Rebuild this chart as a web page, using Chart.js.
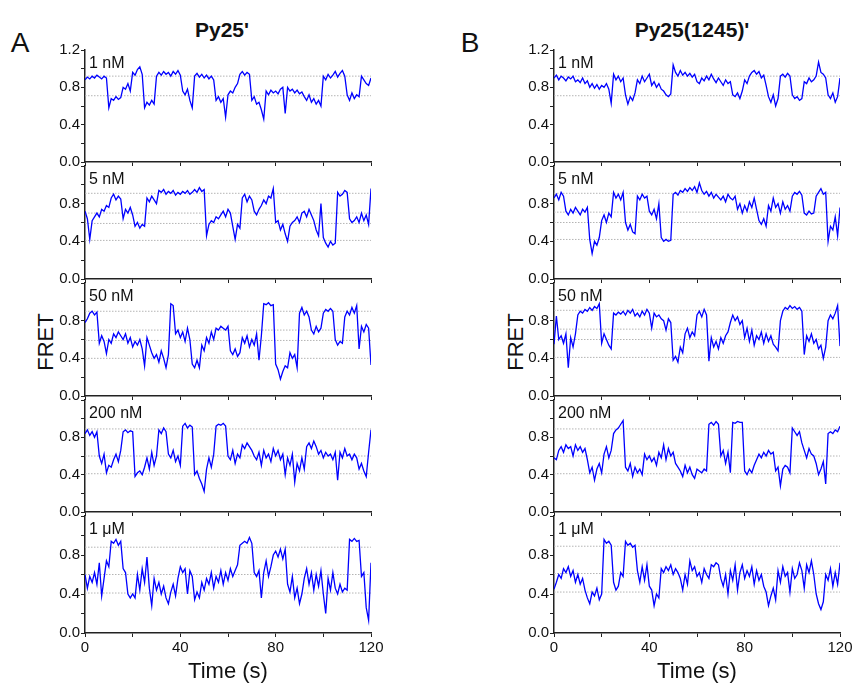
<!DOCTYPE html>
<html>
<head>
<meta charset="utf-8">
<script src="https://cdn.jsdelivr.net/npm/chart.js@4"></script>
<style>
  body { margin: 0; background: #fff; }
  #fig { position: relative; width: 854px; height: 686px; overflow: hidden;
         font-family: 'Liberation Sans', Arial, sans-serif; color: #111; }
  #fig canvas { position: absolute; }
  .txt { position: absolute; white-space: nowrap; }
</style>
</head>
<body>
<div id="fig">
  <div class="txt" style="left:20px;top:43px;font-size:28px;transform:translate(-50%,-50%)">A</div>
  <div class="txt" style="left:470px;top:43px;font-size:28px;transform:translate(-50%,-50%)">B</div>
  <div class="txt" style="left:222px;top:30px;font-size:21px;font-weight:bold;transform:translate(-50%,-50%)">Py25'</div>
  <div class="txt" style="left:692px;top:30px;font-size:21px;font-weight:bold;transform:translate(-50%,-50%)">Py25(1245)'</div>
  <div class="txt" style="left:46px;top:342px;font-size:22px;transform:translate(-50%,-50%) rotate(-90deg)">FRET</div>
  <div class="txt" style="left:516px;top:342px;font-size:22px;transform:translate(-50%,-50%) rotate(-90deg)">FRET</div>
</div>
<script>
// time axis (s), one sample per second
const timeS = [
  0,1,2,3,4,5,6,7,8,9,10,11,12,13,14,15,16,17,18,19,
  20,21,22,23,24,25,26,27,28,29,30,31,32,33,34,35,36,37,38,39,
  40,41,42,43,44,45,46,47,48,49,50,51,52,53,54,55,56,57,58,59,
  60,61,62,63,64,65,66,67,68,69,70,71,72,73,74,75,76,77,78,79,
  80,81,82,83,84,85,86,87,88,89,90,91,92,93,94,95,96,97,98,99,
  100,101,102,103,104,105,106,107,108,109,110,111,112,113,114,115,116,117,118,119,120
];

const concLabels = ['1 nM', '5 nM', '50 nM', '200 nM', '1 μM'];
const xTickLabels = ['0', '40', '80', '120'];
const yTickLabels = ['0.0', '0.4', '0.8', '1.2'];

// Py25' (A)
const fretA_1nM = [
  0.88,0.91,0.89,0.92,0.90,0.93,0.91,0.89,0.92,0.90,
  0.58,0.68,0.66,0.70,0.67,0.69,0.80,0.78,0.84,0.76,
  0.96,0.93,0.99,1.02,0.94,0.58,0.64,0.61,0.66,0.62,
  0.92,0.96,0.93,0.97,0.94,0.96,0.92,0.97,0.94,0.98,
  0.93,0.76,0.72,0.78,0.66,0.58,0.92,0.95,0.91,0.94,
  0.90,0.93,0.89,0.92,0.88,0.66,0.70,0.64,0.68,0.48,
  0.72,0.76,0.74,0.80,0.84,0.94,0.97,0.93,0.96,0.94,
  0.66,0.70,0.62,0.64,0.56,0.46,0.76,0.72,0.77,0.74,
  0.76,0.73,0.78,0.80,0.52,0.80,0.76,0.78,0.74,0.77,
  0.73,0.75,0.70,0.66,0.72,0.64,0.68,0.62,0.66,0.60,
  0.92,0.88,0.94,0.90,0.93,0.97,0.91,0.95,0.98,0.92,
  0.72,0.66,0.74,0.68,0.72,0.70,0.92,0.88,0.84,0.82,
  0.90
];
const fretA_5nM = [
  0.72,0.64,0.42,0.62,0.66,0.70,0.66,0.74,0.72,0.78,
  0.76,0.86,0.90,0.84,0.88,0.85,0.64,0.74,0.70,0.76,
  0.68,0.56,0.60,0.54,0.58,0.56,0.86,0.82,0.88,0.84,
  0.80,0.94,0.92,0.95,0.90,0.93,0.91,0.94,0.89,0.92,
  0.90,0.93,0.91,0.94,0.90,0.92,0.95,0.92,0.97,0.93,
  0.95,0.46,0.58,0.62,0.60,0.66,0.64,0.68,0.72,0.66,
  0.74,0.70,0.56,0.42,0.58,0.54,0.86,0.90,0.82,0.88,
  0.84,0.72,0.68,0.74,0.78,0.84,0.80,0.88,0.86,0.96,
  0.60,0.62,0.52,0.58,0.48,0.40,0.56,0.60,0.62,0.66,
  0.60,0.70,0.72,0.66,0.74,0.68,0.62,0.52,0.46,0.80,
  0.44,0.38,0.34,0.40,0.36,0.38,0.92,0.88,0.90,0.94,
  0.92,0.64,0.60,0.62,0.66,0.60,0.70,0.62,0.68,0.58,
  0.96
];
const fretA_50nM = [
  0.78,0.82,0.88,0.90,0.86,0.89,0.56,0.64,0.58,0.45,
  0.60,0.56,0.66,0.62,0.68,0.64,0.60,0.66,0.56,0.62,
  0.52,0.58,0.54,0.60,0.50,0.32,0.62,0.54,0.46,0.40,
  0.44,0.36,0.48,0.40,0.30,0.44,0.98,0.96,0.66,0.70,
  0.62,0.68,0.58,0.72,0.60,0.34,0.30,0.38,0.30,0.54,
  0.48,0.62,0.56,0.68,0.60,0.72,0.70,0.74,0.72,0.70,
  0.74,0.48,0.44,0.50,0.42,0.46,0.62,0.56,0.64,0.52,
  0.60,0.54,0.66,0.38,0.64,0.98,0.97,0.99,0.96,0.97,
  0.34,0.28,0.18,0.26,0.32,0.30,0.46,0.40,0.44,0.30,
  0.88,0.94,0.86,0.90,0.84,0.70,0.66,0.74,0.68,0.72,
  0.88,0.92,0.90,0.93,0.90,0.60,0.54,0.58,0.56,0.84,
  0.90,0.86,0.94,0.88,0.96,0.50,0.74,0.68,0.76,0.72,
  0.33
];
const fretA_200nM = [
  0.84,0.88,0.82,0.86,0.80,0.86,0.60,0.52,0.62,0.42,
  0.50,0.48,0.56,0.62,0.54,0.66,0.86,0.88,0.85,0.87,
  0.86,0.38,0.42,0.44,0.40,0.48,0.58,0.46,0.64,0.50,
  0.60,0.88,0.84,0.90,0.86,0.62,0.58,0.66,0.54,0.60,
  0.50,0.92,0.95,0.90,0.93,0.91,0.40,0.44,0.36,0.30,
  0.22,0.46,0.58,0.48,0.62,0.92,0.94,0.93,0.95,0.92,
  0.60,0.56,0.66,0.52,0.62,0.58,0.72,0.68,0.74,0.70,
  0.66,0.60,0.56,0.64,0.50,0.66,0.58,0.62,0.54,0.68,
  0.60,0.66,0.56,0.62,0.40,0.58,0.50,0.62,0.32,0.52,
  0.44,0.58,0.46,0.70,0.74,0.68,0.76,0.70,0.62,0.66,
  0.58,0.64,0.60,0.62,0.56,0.64,0.34,0.64,0.58,0.68,
  0.60,0.62,0.56,0.62,0.58,0.46,0.52,0.44,0.38,0.64,
  0.88
];
const fretA_1uM = [
  0.60,0.46,0.58,0.52,0.62,0.50,0.72,0.38,0.56,0.74,
  0.68,0.94,0.92,0.96,0.90,0.94,0.66,0.62,0.40,0.36,
  0.40,0.36,0.60,0.44,0.66,0.52,0.78,0.46,0.28,0.56,
  0.44,0.52,0.40,0.48,0.36,0.30,0.42,0.50,0.38,0.56,
  0.68,0.62,0.66,0.40,0.64,0.58,0.34,0.42,0.36,0.52,
  0.44,0.56,0.50,0.62,0.46,0.58,0.52,0.64,0.50,0.62,
  0.54,0.66,0.58,0.64,0.70,0.90,0.92,0.94,0.92,0.98,
  0.92,0.62,0.58,0.64,0.36,0.62,0.74,0.58,0.68,0.80,
  0.84,0.78,0.86,0.76,0.86,0.50,0.42,0.58,0.36,0.46,
  0.30,0.40,0.56,0.66,0.50,0.62,0.44,0.60,0.48,0.64,
  0.40,0.20,0.56,0.44,0.62,0.46,0.40,0.50,0.42,0.46,
  0.44,0.96,0.94,0.97,0.94,0.95,0.58,0.62,0.26,0.13,
  0.72
];

// Py25(1245)' (B)
const fretB_1nM = [
  0.90,0.93,0.88,0.92,0.90,0.87,0.91,0.89,0.92,0.86,
  0.88,0.85,0.90,0.84,0.87,0.80,0.84,0.79,0.83,0.78,
  0.82,0.80,0.84,0.78,0.63,0.94,0.88,0.92,0.86,0.90,
  0.72,0.62,0.70,0.66,0.74,0.88,0.84,0.92,0.86,0.90,
  0.94,0.82,0.86,0.80,0.84,0.78,0.76,0.72,0.70,0.73,
  1.04,0.96,0.92,0.98,0.93,0.96,0.92,0.95,0.91,0.94,
  0.86,0.84,0.90,0.87,0.92,0.88,0.94,0.89,0.85,0.90,
  0.86,0.82,0.88,0.84,0.86,0.72,0.70,0.74,0.68,0.76,
  0.88,0.84,0.92,0.96,0.98,0.94,0.97,0.90,0.93,0.82,
  0.70,0.64,0.72,0.60,0.68,0.92,0.94,0.91,0.95,0.92,
  0.72,0.68,0.70,0.66,0.68,0.86,0.84,0.90,0.86,0.88,
  0.92,1.07,0.96,0.94,0.90,0.72,0.68,0.74,0.64,0.70,
  0.90
];
const fretB_5nM = [
  0.86,0.90,0.84,0.92,0.88,0.72,0.68,0.74,0.70,0.76,
  0.72,0.68,0.74,0.71,0.76,0.42,0.27,0.40,0.36,0.44,
  0.62,0.68,0.60,0.70,0.66,0.92,0.86,0.90,0.84,0.92,
  0.60,0.52,0.58,0.50,0.48,0.88,0.84,0.90,0.86,0.88,
  0.72,0.68,0.74,0.64,0.80,0.44,0.40,0.42,0.40,0.41,
  0.90,0.92,0.89,0.94,0.92,0.96,0.93,0.97,0.94,0.98,
  0.92,1.02,0.94,0.90,0.93,0.88,0.92,0.86,0.90,0.87,
  0.84,0.88,0.82,0.90,0.86,0.84,0.88,0.74,0.80,0.70,
  0.78,0.72,0.82,0.76,0.86,0.74,0.62,0.58,0.64,0.56,
  0.78,0.72,0.86,0.76,0.80,0.70,0.82,0.74,0.78,0.72,
  0.88,0.92,0.90,0.93,0.89,0.70,0.68,0.72,0.69,0.70,
  0.88,0.92,0.96,0.90,0.92,0.40,0.56,0.52,0.66,0.46,
  0.76
];
const fretB_50nM = [
  0.55,0.85,0.60,0.64,0.56,0.66,0.30,0.62,0.52,0.66,
  0.86,0.90,0.88,0.92,0.90,0.94,0.91,0.95,0.93,0.98,
  0.56,0.66,0.60,0.54,0.50,0.88,0.86,0.89,0.87,0.90,
  0.86,0.91,0.88,0.92,0.85,0.88,0.84,0.90,0.86,0.92,
  0.88,0.72,0.88,0.84,0.86,0.82,0.80,0.70,0.82,0.78,
  0.38,0.42,0.36,0.52,0.46,0.66,0.72,0.62,0.68,0.64,
  0.86,0.90,0.84,0.92,0.86,0.37,0.62,0.52,0.58,0.50,
  0.62,0.56,0.64,0.68,0.78,0.86,0.80,0.84,0.76,0.80,
  0.62,0.72,0.58,0.70,0.54,0.64,0.60,0.68,0.56,0.66,
  0.58,0.64,0.55,0.52,0.48,0.80,0.90,0.94,0.92,0.96,
  0.93,0.95,0.92,0.94,0.90,0.44,0.64,0.58,0.66,0.56,
  0.60,0.50,0.54,0.40,0.52,0.80,0.86,0.82,0.88,0.96,
  0.53
];
const fretB_200nM = [
  0.58,0.56,0.66,0.70,0.64,0.72,0.68,0.70,0.60,0.72,
  0.66,0.70,0.64,0.68,0.56,0.42,0.48,0.34,0.46,0.52,
  0.42,0.62,0.70,0.58,0.66,0.84,0.88,0.90,0.94,0.98,
  0.48,0.44,0.52,0.38,0.48,0.42,0.46,0.40,0.62,0.56,
  0.60,0.54,0.58,0.50,0.64,0.58,0.72,0.56,0.68,0.60,
  0.64,0.52,0.48,0.44,0.38,0.50,0.42,0.48,0.40,0.36,
  0.46,0.44,0.42,0.46,0.44,0.94,0.96,0.93,0.97,0.94,
  0.60,0.66,0.52,0.64,0.42,0.96,0.95,0.97,0.96,0.96,
  0.44,0.40,0.46,0.42,0.50,0.56,0.62,0.58,0.64,0.60,
  0.66,0.62,0.64,0.44,0.48,0.28,0.46,0.50,0.48,0.42,
  0.90,0.86,0.82,0.86,0.74,0.66,0.58,0.68,0.62,0.60,
  0.52,0.40,0.46,0.54,0.30,0.84,0.86,0.84,0.88,0.86,
  0.92
];
const fretB_1uM = [
  0.45,0.52,0.60,0.56,0.66,0.62,0.68,0.58,0.64,0.52,
  0.60,0.50,0.56,0.44,0.36,0.30,0.42,0.38,0.46,0.34,
  0.40,0.96,0.92,0.94,0.90,0.52,0.44,0.48,0.62,0.58,
  0.94,0.90,0.92,0.88,0.90,0.64,0.52,0.68,0.54,0.70,
  0.48,0.44,0.28,0.40,0.36,0.66,0.62,0.68,0.64,0.70,
  0.60,0.66,0.62,0.56,0.44,0.60,0.50,0.74,0.64,0.68,
  0.58,0.62,0.52,0.66,0.60,0.56,0.70,0.68,0.72,0.70,
  0.56,0.48,0.60,0.40,0.64,0.54,0.70,0.44,0.62,0.70,
  0.56,0.64,0.58,0.68,0.50,0.64,0.54,0.60,0.48,0.42,
  0.28,0.38,0.46,0.34,0.64,0.52,0.68,0.58,0.62,0.42,
  0.66,0.56,0.60,0.72,0.64,0.46,0.70,0.62,0.74,0.60,
  0.40,0.30,0.24,0.32,0.60,0.54,0.66,0.48,0.62,0.50,
  0.72
];

// dotted reference FRET levels per panel
const levelsA_1nM = [0.92, 0.71];
const levelsA_5nM = [0.91, 0.70, 0.59, 0.41];
const levelsA_50nM = [0.90, 0.70, 0.59, 0.40];
const levelsA_200nM = [0.89, 0.60, 0.41];
const levelsA_1uM = [0.88, 0.60, 0.41];
const levelsB_1nM = [0.92, 0.71];
const levelsB_5nM = [0.91, 0.71, 0.60, 0.42];
const levelsB_50nM = [0.91, 0.71, 0.60, 0.41];
const levelsB_200nM = [0.89, 0.60, 0.41];
const levelsB_1uM = [0.89, 0.61, 0.42];

const columns = [
  { axisX: 85,  traces: [fretA_1nM, fretA_5nM, fretA_50nM, fretA_200nM, fretA_1uM],
    levels: [levelsA_1nM, levelsA_5nM, levelsA_50nM, levelsA_200nM, levelsA_1uM] },
  { axisX: 554, traces: [fretB_1nM, fretB_5nM, fretB_50nM, fretB_200nM, fretB_1uM],
    levels: [levelsB_1nM, levelsB_5nM, levelsB_50nM, levelsB_200nM, levelsB_1uM] }
];

// layout of the stacked panels (px)
const panelTop = [50, 166, 283, 400, 516];
const panelH = [116, 117, 117, 116, 117];
const plotW = 286;
const yAxisW = 50;
const padTop = 10;
const padRight = 16;

const fig = document.getElementById('fig');
const fontFamily = "'Liberation Sans', Arial, sans-serif";
const ink = '#111';
const axisInk = '#222';

function makePanel(col, i) {
  const last = i === concLabels.length - 1;
  const xh = last ? 52 : 6;
  const w = yAxisW + plotW + padRight;
  const h = padTop + panelH[i] + xh;
  const cv = document.createElement('canvas');
  cv.width = w; cv.height = h;
  cv.style.left = (col.axisX - yAxisW) + 'px';
  cv.style.top = (panelTop[i] - padTop) + 'px';
  cv.style.width = w + 'px'; cv.style.height = h + 'px';
  fig.appendChild(cv);

  const trace = col.traces[i];
  const datasets = [{
    data: timeS.map((t, k) => ({ x: t, y: trace[k] })),
    borderColor: '#0000ff',
    borderWidth: 1.3,
    pointRadius: 0,
    tension: 0
  }];
  col.levels[i].forEach(lv => {
    datasets.push({
      data: [{ x: 0, y: lv }, { x: 120, y: lv }],
      borderColor: '#b4b4b4',
      borderWidth: 1,
      borderDash: [1.5, 1.5],
      pointRadius: 0
    });
  });

  new Chart(cv, {
    type: 'line',
    data: { datasets },
    options: {
      responsive: false,
      animation: false,
      devicePixelRatio: 1,
      layout: { padding: { top: padTop, right: padRight, bottom: 0, left: 0 } },
      plugins: { legend: { display: false }, tooltip: { enabled: false } },
      scales: {
        x: {
          type: 'linear', min: 0, max: 120, position: 'bottom',
          afterFit: s => { s.height = xh; },
          border: { color: axisInk, width: 1.5 },
          grid: { drawOnChartArea: false, drawTicks: true, tickLength: 4, color: axisInk },
          ticks: {
            display: last, stepSize: 20, autoSkip: false, maxRotation: 0, padding: 2,
            color: ink, font: { family: fontFamily, size: 15 },
            callback: v => (Math.round(v) % 40 === 0 ? xTickLabels[Math.round(v) / 40] : '')
          },
          title: {
            display: last, text: 'Time (s)', color: ink,
            font: { family: fontFamily, size: 22 }, padding: { top: 0, bottom: 0 }
          }
        },
        y: {
          min: 0, max: 1.2,
          afterFit: s => { s.width = yAxisW; },
          border: { color: axisInk, width: 1.5 },
          grid: { drawOnChartArea: false, drawTicks: true, tickLength: 4, color: axisInk },
          ticks: {
            stepSize: 0.2, autoSkip: false, padding: 1,
            color: ink, font: { family: fontFamily, size: 15 },
            callback: v => {
              const k = Math.round(v / 0.2);
              if (k % 2 !== 0) return '';
              if (k === 6 && i > 0) return '';
              return yTickLabels[k / 2];
            }
          }
        }
      }
    }
  });

  const lab = document.createElement('div');
  lab.className = 'txt';
  lab.textContent = concLabels[i];
  lab.style.left = (col.axisX + 4) + 'px';
  lab.style.top = (panelTop[i] + 3.5) + 'px';
  lab.style.fontSize = '16px';
  lab.style.lineHeight = '18px';
  fig.appendChild(lab);
}

columns.forEach(col => {
  concLabels.forEach((c, i) => makePanel(col, i));
});
</script>
</body>
</html>
